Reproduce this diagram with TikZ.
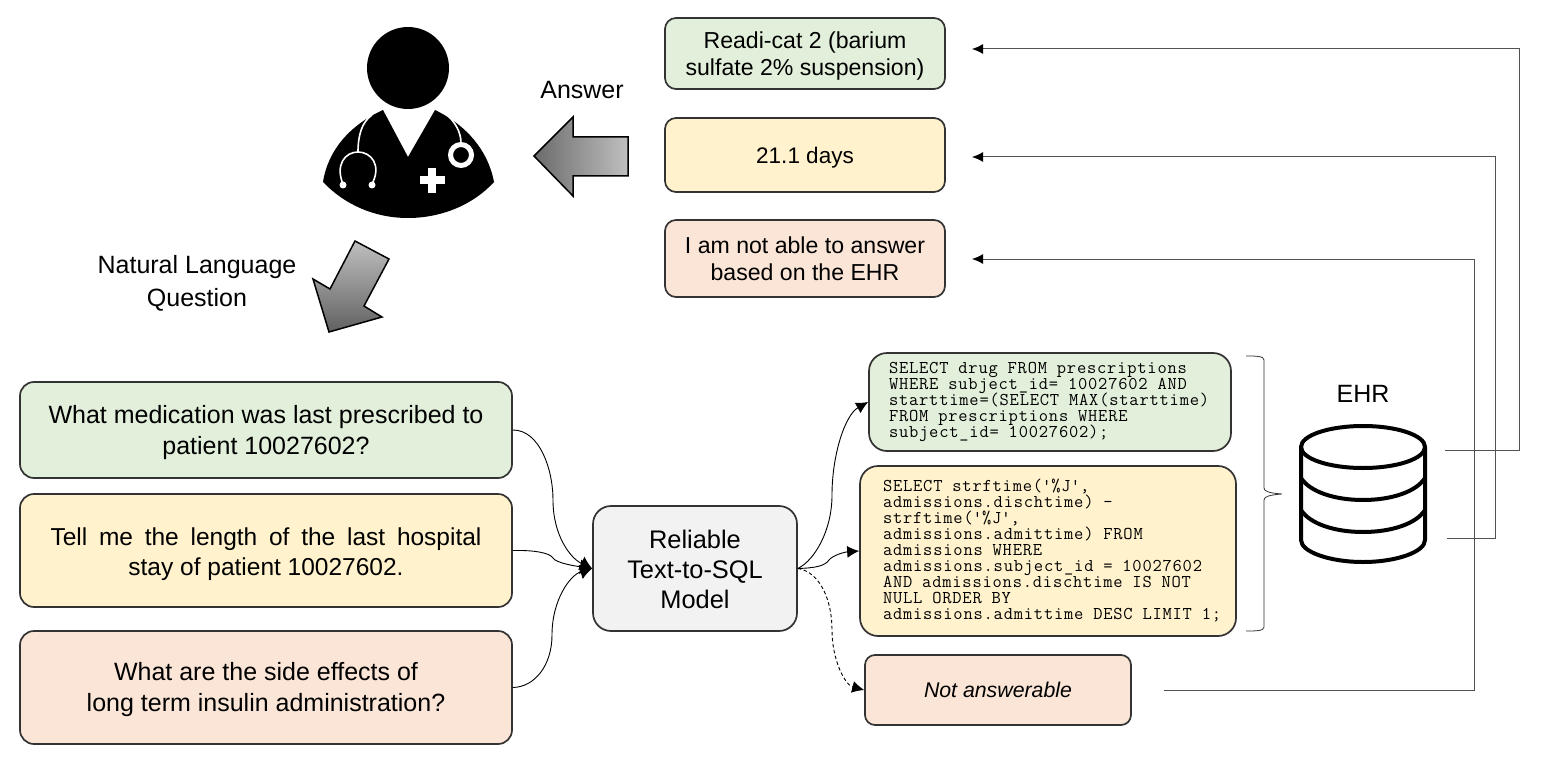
\documentclass[tikz,border=0pt]{standalone}
\usepackage{fontspec}
\setmainfont{Liberation Sans}
\newfontfamily\sqlfont[LetterSpace=4.4]{Latin Modern Mono}
\usetikzlibrary{arrows.meta}
\definecolor{cgreen}{HTML}{E2EFDA}
\definecolor{cyellow}{HTML}{FFF2CC}
\definecolor{cpink}{HTML}{FBE5D6}
\definecolor{cgrey}{HTML}{F2F2F2}
\definecolor{cline}{HTML}{333333}
\newcommand\dn[1]{\rule{0pt}{#1}}
\newcommand\sqa{\hspace*{10pt}}
\newcommand\sqb{\hspace*{15pt}}
\newcommand\sqlsetup{\sqlfont\fontsize{18}{16}\selectfont\setlength{\lineskiplimit}{-20pt}\setlength{\spaceskip}{9.8pt}\frenchspacing\relax}
\tikzset{
  box/.style={draw=cline,line width=1.7pt,rounded corners=14pt,inner sep=0pt,align=center,font=\fontsize{25}{31}\selectfont,text=black},
  ansbox/.style={box,minimum width=280pt,font=\fontsize{23.1}{27.5}\selectfont,rounded corners=11pt},
  sqlbox/.style={box,font=\sqlsetup,align=flush left,rounded corners=18pt},
  flow/.style={line width=0.9pt,draw=black,-{Latex[length=12pt,width=15pt]}},
  flowb/.style={line width=0.9pt,draw=black,-{Latex[length=12pt,width=12pt]}},
  ret/.style={line width=1pt,draw=cline!85!white,-{Latex[length=11pt,width=10pt,black]}},
  lab/.style={font=\fontsize{25}{33}\selectfont,align=center,inner sep=0pt},
  bigarrow/.style={draw=black,line width=1.5pt,miter limit=6},
  dbline/.style={draw=black,line width=4pt,line cap=round,line join=round},
  steth/.style={draw=white,line width=1.6pt}
}
\begin{document}
\begin{tikzpicture}[x=1pt,y=-1pt]
\useasboundingbox (0,0) rectangle (1541,762);
% doctor
\fill[black] (408,68) circle (41);
\fill[black] (383,110) .. controls (350,125) and (328,150) .. (323,182)
  .. controls (345,205) and (375,218) .. (408,218)
  .. controls (441,218) and (473,205) .. (494,182)
  .. controls (488,150) and (466,125) .. (435,110) -- (408,157) -- cycle;
\draw[steth] (372,115) .. controls (362,122) and (358,135) .. (358,152);
\draw[steth] (343,184) .. controls (335,165) and (345,152) .. (358,152)
  .. controls (371,152) and (382,165) .. (372,184);
\fill[white] (343,185) circle (3.5);
\fill[white] (372,185) circle (3.5);
\draw[steth] (447,115) .. controls (455,122) and (461,132) .. (461,143);
\draw[white,line width=5pt] (461,155) circle (10.5);
\fill[white] (428,168) rectangle (436,193);
\fill[white] (419.5,176) rectangle (444.5,184);
% big arrows
\path[bigarrow,left color=black!58,right color=black!25]
  (534,156) -- (573,117) -- (573,137) -- (628,137) -- (628,176) -- (573,176) -- (573,196) -- cycle;
\path[bigarrow,top color=black!25,bottom color=black!62]
  (355,241) -- (389,259) -- (364,306) -- (382,317) -- (329,332) -- (313,279) -- (330,289) -- cycle;
\node[lab] (answer) at (582,90) {Answer};
\node[lab] (nlq) at (197,283) {Natural Language\\Question};
% answers
\node[ansbox,fill=cgreen,minimum height=71pt] (a1) at (805,53.5) {\dn{22pt}Readi-cat 2 (barium\\sulfate 2\% suspension)};
\node[ansbox,fill=cyellow,minimum height=74pt,font=\fontsize{22.5}{27}\selectfont] (a2) at (805,155) {\dn{22pt}21.1 days};
\node[ansbox,fill=cpink,minimum height=77pt] (a3) at (805,258.5) {I am not able to answer\\based on the EHR};
% questions
\node[box,fill=cgreen,minimum width=492pt,minimum height=96pt] (q1) at (266,430) {\dn{23pt}What medication was last prescribed to\\patient 10027602?};
\node[box,fill=cyellow,minimum width=492pt,minimum height=113pt,font=\fontsize{24.5}{30}\selectfont] (q2) at (266,550.5) {\dn{25pt}\makebox[431pt][s]{Tell me the length of the last hospital}\\stay of patient 10027602.};
\node[box,fill=cpink,minimum width=492pt,minimum height=113pt] (q3) at (266,687.5) {\dn{23pt}What are the side effects of\\long term insulin administration?};
% model
\node[box,fill=cgrey,minimum width=204pt,minimum height=125pt,rounded corners=18pt,font=\fontsize{25.4}{30}\selectfont] (model) at (695,568.5) {\dn{20pt}Reliable\\Text-to-SQL\\Model};
% sql
\node[sqlbox,fill=cgreen,minimum width=362pt,minimum height=98pt,text width=342pt] (s1) at (1050,402) {\sqa SELECT drug FROM prescriptions\\\sqa WHERE subject\_id= 10027602 AND\\\sqa starttime=(SELECT MAX(starttime)\\\sqa FROM prescriptions WHERE\\\sqa subject\_id= 10027602);};
\node[sqlbox,fill=cyellow,minimum width=376pt,minimum height=170pt,text width=360pt] (s2) at (1048,551) {\sqb SELECT strftime(\textquotesingle\%J\textquotesingle,\\\sqb admissions.dischtime) -\\\sqb strftime(\textquotesingle\%J\textquotesingle,\\\sqb admissions.admittime) FROM\\\sqb admissions WHERE\\\sqb admissions.subject\_id = 10027602\\\sqb AND admissions.dischtime IS NOT\\\sqb NULL ORDER BY\\\sqb admissions.admittime DESC LIMIT 1;};
\node[box,fill=cpink,minimum width=266pt,minimum height=70pt,rounded corners=10pt,font=\itshape\fontsize{21.3}{26}\selectfont] (na) at (998,690) {Not answerable};
% flows in
\draw[flow] (q1.east) .. controls (540,430) and (553,470) .. (553,500) .. controls (553,535) and (570,558) .. (model.west);
\draw[flow] (q2.east) .. controls (535,550) and (550,553) .. (553,558) .. controls (556,563) and (575,566) .. (model.west);
\draw[flow] (q3.east) .. controls (535,687) and (552,665) .. (552,635) .. controls (552,600) and (570,575) .. (model.west);
% flows out
\draw[flowb] (model.east) .. controls (815,560) and (832,530) .. (832,495) .. controls (832,455) and (845,415) .. (s1.west);
\draw[flowb] (model.east) .. controls (815,568) and (825,566) .. (829,560) .. controls (833,555) and (845,552) .. (s2.west);
\draw[flowb,dashed,dash pattern=on 3.5pt off 2.5pt] (model.east) .. controls (820,572) and (832,600) .. (832,630) .. controls (832,660) and (845,685) .. (na.west);
% database
\node[lab] (ehr) at (1363,394) {EHR};
\draw[dbline] (1301,447) arc[start angle=180,end angle=-180,x radius=62,y radius=21];
\draw[dbline] (1301,447) -- (1301,540) .. controls (1301,552) and (1330,562) .. (1363,562) .. controls (1396,562) and (1425,552) .. (1425,540) -- (1425,447);
\draw[dbline] (1301,478) .. controls (1310,492) and (1335,500) .. (1363,500) .. controls (1391,500) and (1416,492) .. (1425,478);
\draw[dbline] (1301,510) .. controls (1310,524) and (1335,532) .. (1363,532) .. controls (1391,532) and (1416,524) .. (1425,510);
% brace
\draw[line width=0.8pt,draw=cline] (1246,356) .. controls (1256,356) and (1264,356) .. (1264,360) -- (1264,488) .. controls (1264,491) and (1268,493) .. (1282,494) .. controls (1268,495) and (1264,497) .. (1264,500) -- (1264,627) .. controls (1264,631) and (1256,631) .. (1246,631);
% return lines
\coordinate (d1) at (1445,450);
\coordinate (d2) at (1447,538);
\coordinate (n1) at (1164,690);
\coordinate (t1) at (972,49);
\coordinate (t2) at (972,157);
\coordinate (t3) at (972,259);
\draw[ret] (d1) -- (1519,450) -- (1519,49) -- (t1);
\draw[ret] (d2) -- (1495,538) -- (1495,157) -- (t2);
\draw[ret] (n1) -- (1474,690) -- (1474,259) -- (t3);
\end{tikzpicture}
\end{document}
